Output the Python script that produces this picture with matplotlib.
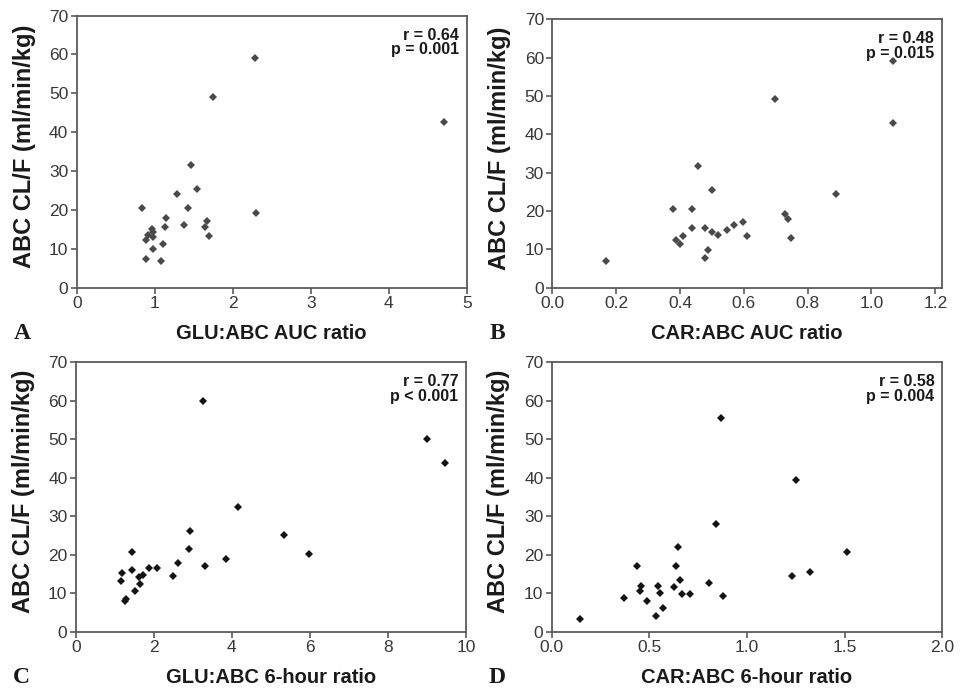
import numpy as np
from matplotlib import pyplot as plt

plt.rcParams['font.family'] = ['Liberation Sans', 'DejaVu Sans']

# panel A: GLU:ABC AUC ratio vs ABC CL/F
glu_auc = [2.28, 1.75, 4.71, 1.46, 1.54, 1.28, 0.84, 1.43, 2.30, 1.14, 1.67, 1.13,
           1.64, 1.38, 0.96, 0.98, 0.92, 0.98, 0.89, 1.69, 1.11, 0.98, 0.89, 1.08]
glu_auc_cl = [59.1, 49.1, 42.7, 31.5, 25.3, 24.2, 20.6, 20.6, 19.1, 17.9, 17.1, 15.5,
              15.5, 16.0, 15.2, 14.2, 13.5, 13.0, 12.3, 13.4, 11.3, 9.9, 7.5, 6.9]

# panel B: CAR:ABC AUC ratio
car_auc = [1.069, 0.699, 1.069, 0.458, 0.499, 0.890, 0.379, 0.439, 0.729, 0.739,
           0.599, 0.569, 0.548, 0.439, 0.478, 0.499, 0.520, 0.610, 0.410, 0.389,
           0.748, 0.401, 0.489, 0.480, 0.169]
car_auc_cl = [59.0, 49.1, 42.9, 31.6, 25.5, 24.3, 20.6, 20.6, 19.3, 18.0,
              17.0, 16.3, 15.1, 15.6, 15.6, 14.4, 13.7, 13.4, 13.4, 12.4,
              13.0, 11.5, 9.8, 7.7, 7.0]

# panel C: GLU:ABC 6-hour ratio
glu_6h = [3.25, 8.99, 9.45, 4.15, 2.92, 5.34, 2.91, 5.97, 1.45, 3.85, 2.62, 3.32,
          1.88, 2.08, 1.45, 1.19, 1.73, 1.63, 2.48, 1.16, 1.65, 1.53, 1.28, 1.27]
glu_6h_cl = [59.9, 50.0, 43.8, 32.4, 26.3, 25.1, 21.6, 20.1, 20.6, 19.0, 17.9, 17.2,
             16.5, 16.5, 16.0, 15.3, 14.7, 14.1, 14.4, 13.3, 12.5, 10.7, 8.5, 7.9]

# panel D: CAR:ABC 6-hour ratio
car_6h = [0.867, 1.249, 0.840, 1.510, 0.647, 0.439, 0.637, 1.229, 1.321, 0.655,
          0.805, 0.459, 0.544, 0.451, 0.626, 0.556, 0.666, 0.710, 0.877, 0.369,
          0.486, 0.570, 0.534, 0.145]
car_6h_cl = [55.5, 39.3, 27.9, 20.6, 21.9, 17.1, 17.1, 14.4, 15.6, 13.4,
             12.7, 12.0, 12.0, 10.7, 11.5, 10.0, 9.8, 9.8, 9.4, 8.8,
             7.9, 6.2, 4.1, 3.3]

panels = [
    dict(x=glu_auc, y=glu_auc_cl, xlabel='GLU:ABC AUC ratio', letter='A',
         stats='r = 0.64\np = 0.001', xlim=(0, 5), xticks=[0, 1, 2, 3, 4, 5],
         fmt='{:.0f}', color='#4a4a4a', rect=[0.0799, 0.5843, 0.4063, 0.3931]),
    dict(x=car_auc, y=car_auc_cl, xlabel='CAR:ABC AUC ratio', letter='B',
         stats='r = 0.48\np = 0.015', xlim=(0, 1.22),
         xticks=[0, 0.2, 0.4, 0.6, 0.8, 1.0, 1.2],
         fmt='{:.1f}', color='#4a4a4a', rect=[0.5753, 0.5843, 0.4056, 0.3879]),
    dict(x=glu_6h, y=glu_6h_cl, xlabel='GLU:ABC 6-hour ratio', letter='C',
         stats='r = 0.77\np < 0.001', xlim=(0, 10), xticks=[0, 2, 4, 6, 8, 10],
         fmt='{:.0f}', color='#141414', rect=[0.0789, 0.0871, 0.4066, 0.3893]),
    dict(x=car_6h, y=car_6h_cl, xlabel='CAR:ABC 6-hour ratio', letter='D',
         stats='r = 0.58\np = 0.004', xlim=(0, 2.0), xticks=[0, 0.5, 1.0, 1.5, 2.0],
         fmt='{:.1f}', color='#141414', rect=[0.5747, 0.0871, 0.4069, 0.3893]),
]

fig = plt.figure(figsize=(9.6, 6.92), dpi=100)

for p in panels:
    ax = fig.add_axes(p['rect'])
    ax.plot(p['x'], p['y'], linestyle='none', marker='D', markersize=4.5,
            color=p['color'], markeredgewidth=0)
    ax.set_xlim(*p['xlim'])
    ax.set_ylim(0, 70)
    ax.set_xticks(p['xticks'])
    ax.set_xticklabels([p['fmt'].format(t) for t in p['xticks']])
    ax.set_yticks(range(0, 71, 10))
    for s in ax.spines.values():
        s.set_color('#5a5a5a')
        s.set_linewidth(1.3)
    ax.tick_params(direction='out', length=4, width=1.2, color='#5a5a5a',
                   labelsize=12.5, labelcolor='#383838', pad=2)

    ax.text(0.5, -0.135, p['xlabel'], transform=ax.transAxes, ha='center', va='top',
            fontsize=14.5, fontweight='bold', color='#1a1a1a')
    ax.text(-0.135, 0.52, 'ABC CL/F (ml/min/kg)', transform=ax.transAxes,
            rotation=90, ha='center', va='center', fontsize=17,
            fontweight='bold', color='#1a1a1a')
    ax.text(-0.14, -0.17, p['letter'], transform=ax.transAxes, ha='center',
            va='center', fontsize=17, fontweight='bold', color='#1a1a1a',
            family=['Liberation Serif', 'DejaVu Serif'])
    ax.text(0.98, 0.955, p['stats'], transform=ax.transAxes, ha='right', va='top',
            fontsize=11.5, fontweight='bold', color='#1a1a1a', linespacing=0.95)

fig.savefig('out.png', dpi=100)
